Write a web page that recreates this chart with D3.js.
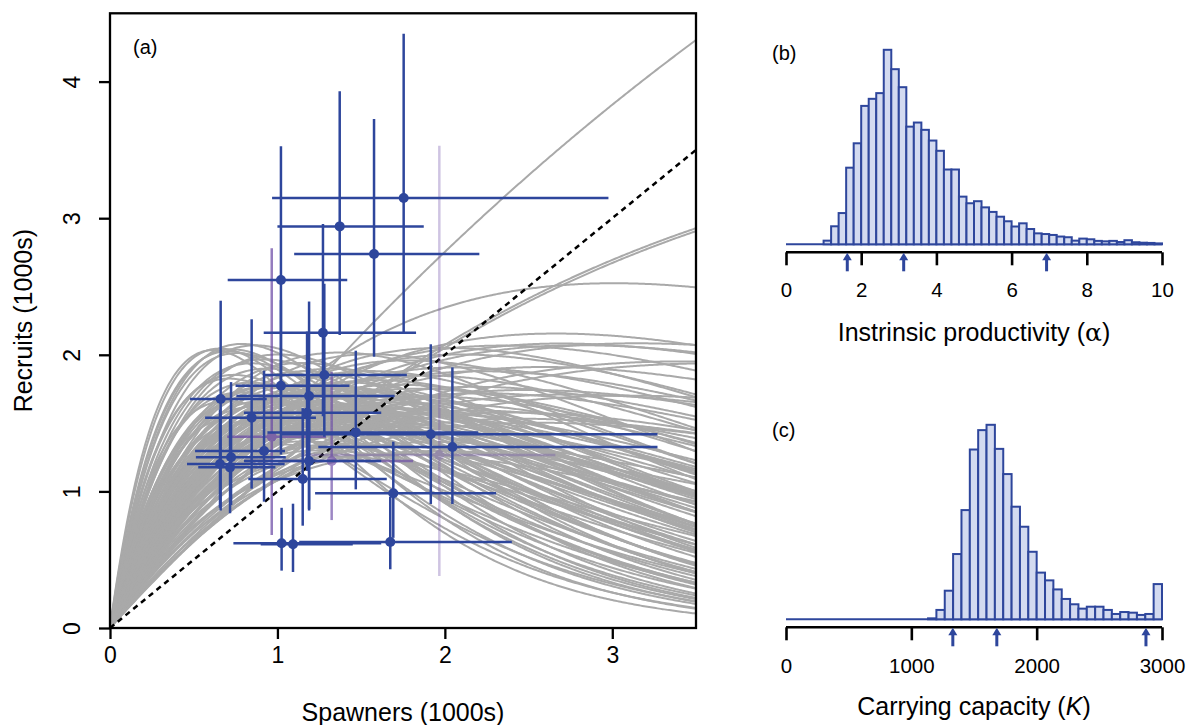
<!DOCTYPE html>
<html>
<head>
<meta charset="utf-8">
<script src="https://cdn.jsdelivr.net/npm/d3@7"></script>
<style>
  body { margin: 0; background: #fff; }
  svg { display: block; }
  text { font-family: "Liberation Sans", Arial, Helvetica, sans-serif; fill: #000; }
</style>
</head>
<body>
<svg id="fig" width="1186" height="725"></svg>
<script>
// ---- (a) spawner-recruit estimates, thousands of fish (median, 95% interval) ----
const spawners   = [1.754, 1.372, 1.577, 1.021, 1.272, 1.021, 1.280, 1.189, 0.661, 0.846, 1.177, 1.468, 1.916, 2.045, 0.920, 0.723, 0.657, 0.717, 1.189, 1.151, 1.692, 1.025, 1.093, 1.674, 0.966, 1.324, 1.967];
const spawnersLo = [0.968, 1.000, 1.100, 0.703, 0.918, 0.750, 0.916, 0.755, 0.478, 0.568, 0.800, 0.940, 1.020, 1.244, 0.508, 0.513, 0.460, 0.527, 0.800, 0.826, 1.225, 0.737, 0.900, 1.130, 0.700, 0.806, 1.153];
const spawnersHi = [2.977, 1.874, 2.206, 1.417, 1.828, 1.430, 1.773, 1.700, 0.936, 1.230, 1.620, 2.200, 3.270, 3.270, 1.045, 1.050, 1.043, 0.988, 1.620, 1.653, 2.306, 1.620, 1.450, 2.400, 1.290, 1.810, 2.660];
const recruits   = [3.148, 2.940, 2.738, 2.547, 2.162, 1.774, 1.852, 1.698, 1.676, 1.540, 1.576, 1.432, 1.418, 1.325, 1.296, 1.250, 1.200, 1.176, 1.222, 1.091, 0.986, 0.620, 0.613, 0.630, 1.400, 1.222, 1.266];
const recruitsLo = [2.160, 2.145, 1.986, 1.700, 1.550, 1.270, 1.400, 0.870, 0.860, 1.020, 1.150, 1.015, 0.908, 0.908, 0.925, 0.900, 0.880, 0.840, 0.860, 0.749, 0.660, 0.420, 0.410, 0.430, 0.680, 0.790, 0.380];
const recruitsHi = [4.350, 3.930, 3.726, 3.526, 2.957, 2.400, 2.520, 2.390, 2.396, 2.260, 2.170, 2.030, 2.077, 1.908, 1.884, 1.800, 1.600, 1.550, 1.600, 1.610, 1.364, 0.880, 0.910, 0.960, 2.780, 1.876, 3.530];
// years with partial information are shown in purple, faded by their weight
const pointGroup  = ["full","full","full","full","full","full","full","full","full","full","full","full","full","full","full","full","full","full","full","full","full","full","full","full","partial","partial","partial"];
const pointWeight = [1,1,1,1,1,1,1,1,1,1,1,1,1,1,1,1,1,1,1,1,1,1,1,1,0.72,0.66,0.32];

// posterior draws of Ricker parameters used for the grey curves (K in thousands)
const drawAlpha = [8.5,7.8,7.2,6.8,9.0,6.2,5.8,5.5,7.0,6.5,5.2,4.8,7.6,4.5,5.0,6.0,
  4.2,4.0,3.8,3.6,3.5,3.4,3.3,3.2,3.1,3.0,2.9,2.8,2.7,2.6,2.5,2.4,2.3,2.2,2.7,3.3,3.9,4.4,2.9,3.6,4.1,3.0,2.6,2.4,3.8,3.4,2.8,3.2,3.7,4.6,5.4,4.0,3.5,3.0,2.5,2.3,2.0,2.1,1.9,2.0,
  1.5,1.6,1.7,1.8,1.45,1.9,2.0,2.2,2.5,2.8,3.2,3.6,4.2,4.8,5.5,6.5,1.7,1.55,1.8,
  2.2,2.4,2.6,2.1,2.0,1.8,2.8,
  1.6,1.38,1.36,2.28,
  4.4,5.0,3.9,3.3,2.6,5.8,3.0,4.6,2.3,7.2,
  3.1,2.9,3.4,2.7,3.7,4.3,3.2,2.5,2.2,3.5,4.0,2.8,3.3,2.6,3.9,4.8,5.3,2.4,3.0,3.6];
const drawK = [1.40,1.45,1.50,1.42,1.35,1.55,1.48,1.60,1.38,1.62,1.52,1.58,1.48,1.50,1.42,1.40,
  1.65,1.55,1.70,1.60,1.75,1.50,1.68,1.58,1.80,1.62,1.70,1.55,1.65,1.75,1.60,1.68,1.55,1.72,1.85,1.85,1.80,1.72,1.50,1.45,1.45,1.45,1.45,1.42,1.62,1.72,1.78,1.66,1.52,1.60,1.70,1.90,1.95,1.95,1.90,1.85,1.80,1.65,1.60,1.50,
  1.25,1.20,1.30,1.15,1.35,1.25,1.20,1.30,1.25,1.30,1.35,1.30,1.32,1.35,1.30,1.30,1.45,1.50,1.40,
  2.10,2.05,2.00,2.00,1.95,1.85,2.05,
  6.25,2.25,2.18,2.48,
  1.40,1.55,1.38,1.42,1.35,1.62,1.72,1.75,1.62,1.55,
  1.62,1.58,1.60,1.52,1.68,1.55,1.48,1.48,1.45,1.55,1.62,1.62,1.52,1.58,1.50,1.48,1.45,1.55,1.55,1.70];

// ---- (b) posterior of intrinsic productivity, bins of 0.2 from 0 to 10 ----
const alphaBinWidth = 0.2;
const alphaCounts = [0,0,0,0,0,
  16,79,137,336,443,607,638,663,853,768,689,516,534,502,455,410,328,328,209,180,
  189,162,142,121,101,78,92,67,48,45,41,34,31,16,25,22,15,13,15,10,18,9,7,6,4];
const alphaMarks = [1.63, 3.13, 6.93];
const alphaTicks = [0, 2, 4, 6, 8, 10];

// ---- (c) posterior of carrying capacity, 45 bins from 0 to 3000 ----
const capBinWidth = 3000 / 45;
const capCounts = [0,0,0,0,0,0,0,0,0,0,0,0,0,0,0,0,0,
  6,58,177,404,676,1051,1171,1204,1055,899,697,573,418,289,241,185,126,93,66,78,78,58,33,45,41,27,33,218];
const capMarks = [1331, 1682, 2872];
const capTicks = [0, 1000, 2000, 3000];

const BLUE = "#2E469C";
const BAR_FILL = "#D3DAF0";
const PURPLE = "#6B4AA6";

const svg = d3.select("#fig");

// ================= panel (a) =================
const xA = d3.scaleLinear().domain([0, 3.5]).range([110, 696]);
const yA = d3.scaleLinear().domain([0, 4.5]).range([628, 13.3]);

svg.append("clipPath").attr("id", "plotA")
  .append("rect").attr("x", xA(0)).attr("y", yA(4.5))
  .attr("width", xA(3.5) - xA(0)).attr("height", yA(0) - yA(4.5));

const gA = svg.append("g");
const plotA = gA.append("g").attr("clip-path", "url(#plotA)");

// Ricker curves R = S * alpha^(1 - S/K)
const sGrid = d3.range(0, 3.5001, 0.01);
const ricker = d3.line().x(d => xA(d[0])).y(d => yA(d[1]));
plotA.append("g").selectAll("path")
  .data(drawAlpha.map((a, i) => ({ a, k: drawK[i] })))
  .join("path")
  .attr("d", p => ricker(sGrid.map(s => [s, s * Math.pow(p.a, 1 - s / p.k)])))
  .attr("fill", "none").attr("stroke", "#A9A9A9").attr("stroke-width", 2);

// replacement line
plotA.append("line")
  .attr("x1", xA(0)).attr("y1", yA(0)).attr("x2", xA(3.5)).attr("y2", yA(3.5))
  .attr("stroke", "#000").attr("stroke-width", 2.5).attr("stroke-dasharray", "5.5,4.5");

// error bars and medians
const pts = spawners.map((s, i) => ({
  s, sLo: spawnersLo[i], sHi: spawnersHi[i],
  r: recruits[i], rLo: recruitsLo[i], rHi: recruitsHi[i],
  col: pointGroup[i] === "partial" ? PURPLE : BLUE, op: pointWeight[i]
}));
const ptsOrdered = pts.slice().sort((p, q) => p.op - q.op);
const bars = plotA.append("g");
ptsOrdered.forEach(p => {
  const g = bars.append("g").attr("opacity", p.op);
  g.append("line").attr("x1", xA(p.sLo)).attr("x2", xA(p.sHi))
    .attr("y1", yA(p.r)).attr("y2", yA(p.r))
    .attr("stroke", p.col).attr("stroke-width", 2.5);
  g.append("line").attr("x1", xA(p.s)).attr("x2", xA(p.s))
    .attr("y1", yA(p.rLo)).attr("y2", yA(p.rHi))
    .attr("stroke", p.col).attr("stroke-width", 2.5);
  g.append("circle").attr("cx", xA(p.s)).attr("cy", yA(p.r)).attr("r", 5)
    .attr("fill", p.col);
});

// frame
gA.append("rect").attr("x", xA(0)).attr("y", yA(4.5))
  .attr("width", xA(3.5) - xA(0)).attr("height", yA(0) - yA(4.5))
  .attr("fill", "none").attr("stroke", "#000").attr("stroke-width", 2.3);

// axes
const axXA = gA.append("g").attr("transform", `translate(0,${yA(0)})`)
  .call(d3.axisBottom(xA).tickValues([0, 1, 2, 3]).tickSize(11).tickFormat(d3.format("d")));
axXA.select(".domain").remove();
axXA.selectAll(".tick line").attr("stroke", "#000").attr("stroke-width", 2.3);
axXA.selectAll(".tick text").attr("y", 35).attr("dy", 0).style("font-size", "23px");

const axYA = gA.append("g").attr("transform", `translate(${xA(0)},0)`)
  .call(d3.axisLeft(yA).tickValues([0, 1, 2, 3, 4]).tickSize(11).tickFormat(d3.format("d")));
axYA.select(".domain").remove();
axYA.selectAll(".tick line").attr("stroke", "#000").attr("stroke-width", 2.3);
axYA.selectAll(".tick text")
  .attr("x", 0).attr("dy", 0).attr("text-anchor", "middle")
  .attr("transform", "translate(-30,0) rotate(-90)")
  .style("font-size", "23px");

gA.append("text").attr("x", (xA(0) + xA(3.5)) / 2).attr("y", 721)
  .attr("text-anchor", "middle").style("font-size", "25px").text("Spawners (1000s)");
gA.append("text").attr("transform", `translate(32,${(yA(0) + yA(4.5)) / 2}) rotate(-90)`)
  .attr("text-anchor", "middle").style("font-size", "25px").text("Recruits (1000s)");
gA.append("text").attr("x", 133).attr("y", 54).style("font-size", "20px").text("(a)");

// ================= histogram panels =================
function histogram(opts) {
  const g = svg.append("g");
  const x = d3.scaleLinear().domain(opts.domain).range([786, 1162]);
  const y = d3.scaleLinear().domain([0, d3.max(opts.counts)]).range([opts.base, opts.base - 194.5]);

  g.append("line").attr("x1", x(opts.domain[0])).attr("x2", x(opts.domain[1]))
    .attr("y1", opts.base).attr("y2", opts.base)
    .attr("stroke", BLUE).attr("stroke-width", 2);

  g.append("g").selectAll("rect")
    .data(opts.counts.map((c, i) => ({ c, x0: i * opts.width, x1: (i + 1) * opts.width })).filter(d => d.c > 0))
    .join("rect")
    .attr("x", d => x(d.x0)).attr("width", d => x(d.x1) - x(d.x0))
    .attr("y", d => y(d.c)).attr("height", d => opts.base - y(d.c))
    .attr("fill", BAR_FILL).attr("stroke", BLUE).attr("stroke-width", 2);

  const ax = g.append("g").attr("transform", `translate(0,${opts.base + 8})`)
    .call(d3.axisBottom(x).tickValues(opts.ticks).tickSize(13).tickSizeOuter(0).tickFormat(d3.format("d")));
  ax.select(".domain").attr("stroke", "#000").attr("stroke-width", 2.6).attr("d", `M${x(opts.domain[0])},0H${x(opts.domain[1])}`);
  ax.selectAll(".tick line").attr("stroke", "#000").attr("stroke-width", 2.6);
  ax.selectAll(".tick text").attr("y", opts.labelY).attr("dy", 0).style("font-size", "20.5px");

  // interval markers
  const m = g.append("g");
  opts.marks.forEach(v => {
    m.append("line").attr("x1", x(v)).attr("x2", x(v))
      .attr("y1", opts.base + 27).attr("y2", opts.base + 13)
      .attr("stroke", BLUE).attr("stroke-width", 3);
    m.append("path")
      .attr("d", `M${x(v)},${opts.base + 8.5}L${x(v) - 4.5},${opts.base + 16}L${x(v) + 4.5},${opts.base + 16}Z`)
      .attr("fill", BLUE);
  });

  const t = g.append("text").attr("x", 974).attr("y", opts.titleY)
    .attr("text-anchor", "middle").style("font-size", "25px");
  t.append("tspan").text(opts.title);
  t.append("tspan").style("font-family", opts.symFont).style("font-style", opts.symStyle).text(opts.sym);
  t.append("tspan").text(")");

  g.append("text").attr("x", 772).attr("y", opts.tagY).style("font-size", "20px").text(opts.tag);
}

histogram({
  domain: [0, 10], counts: alphaCounts, width: alphaBinWidth, base: 244.3,
  ticks: alphaTicks, marks: alphaMarks, labelY: 44.5, titleY: 340.5,
  title: "Instrinsic productivity (", sym: "\u03B1",
  symFont: "'DejaVu Serif', 'Liberation Serif', serif", symStyle: "normal",
  tag: "(b)", tagY: 60
});

histogram({
  domain: [0, 3000], counts: capCounts, width: capBinWidth, base: 619.3,
  ticks: capTicks, marks: capMarks, labelY: 45.5, titleY: 715,
  title: "Carrying capacity (", sym: "K",
  symFont: "'Liberation Sans', Arial, sans-serif", symStyle: "italic",
  tag: "(c)", tagY: 437
});
</script>
</body>
</html>
